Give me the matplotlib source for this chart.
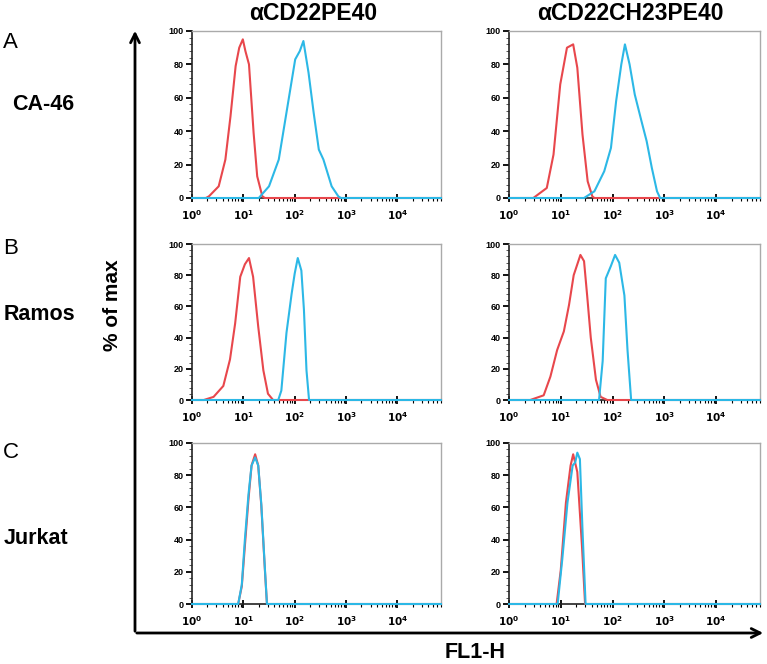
import numpy as np
import matplotlib.pyplot as plt
from matplotlib.patches import FancyArrowPatch
from matplotlib.ticker import FixedLocator, MultipleLocator, LogLocator, NullFormatter

plt.rcParams['font.family'] = ['Liberation Sans', 'DejaVu Sans']

RED = '#e8474c'
CYAN = '#2cb8e6'

cells = ["CA-46", "Ramos", "Jurkat"]
letters = ["A", "B", "C"]
constructs = ["\u03b1CD22PE40", "\u03b1CD22CH23PE40"]

# x values are log10(FL1-H), y values are % of max
# CA-46, aCD22PE40
ca46_pe40_red_x = [0, 0.27, 0.33, 0.52, 0.65, 0.75, 0.85, 0.92, 0.99, 1.04, 1.11, 1.2, 1.27, 1.37, 1.42, 4.85]
ca46_pe40_red_y = [0, 0, 1, 7, 23, 49, 79, 90, 95, 88, 80, 39, 13, 1, 0, 0]
ca46_pe40_cyan_x = [0, 1.3, 1.5, 1.69, 1.85, 2.01, 2.1, 2.17, 2.27, 2.37, 2.47, 2.56, 2.72, 2.85, 2.9, 4.85]
ca46_pe40_cyan_y = [0, 0, 7, 23, 53, 83, 88, 94, 75, 51, 29, 23, 7, 1, 0, 0]
# CA-46, aCD22CH23PE40
ca46_ch23_red_x = [0, 0.47, 0.73, 0.86, 0.99, 1.12, 1.24, 1.32, 1.42, 1.52, 1.61, 1.65, 4.85]
ca46_ch23_red_y = [0, 0, 6, 26, 68, 90, 92, 78, 38, 10, 1, 0, 0]
ca46_ch23_cyan_x = [0, 1.45, 1.65, 1.84, 1.97, 2.07, 2.17, 2.24, 2.33, 2.43, 2.56, 2.66, 2.76, 2.86, 2.92, 4.85]
ca46_ch23_cyan_y = [0, 0, 4, 16, 30, 58, 80, 92, 80, 62, 46, 34, 18, 4, 0, 0]
# Ramos, aCD22PE40
ramos_pe40_red_x = [0, 0.23, 0.42, 0.61, 0.74, 0.84, 0.94, 1.03, 1.11, 1.19, 1.29, 1.39, 1.48, 1.58, 4.85]
ramos_pe40_red_y = [0, 0, 2, 9, 26, 49, 79, 87, 91, 79, 47, 19, 4, 0, 0]
ramos_pe40_cyan_x = [0, 1.68, 1.74, 1.84, 1.94, 2.0, 2.06, 2.13, 2.18, 2.23, 2.28, 4.85]
ramos_pe40_cyan_y = [0, 0, 6, 43, 68, 81, 91, 83, 58, 19, 0, 0]
# Ramos, aCD22CH23PE40
ramos_ch23_red_x = [0, 0.41, 0.67, 0.8, 0.93, 1.06, 1.16, 1.25, 1.38, 1.45, 1.51, 1.58, 1.68, 1.77, 1.9, 4.85]
ramos_ch23_red_y = [0, 0, 3, 15, 32, 44, 61, 80, 93, 89, 67, 40, 13, 2, 0, 0]
ramos_ch23_cyan_x = [0, 1.74, 1.81, 1.87, 1.97, 2.05, 2.13, 2.23, 2.29, 2.36, 4.85]
ramos_ch23_cyan_y = [0, 0, 25, 78, 86, 93, 88, 67, 32, 0, 0]
# Jurkat, aCD22PE40
jurkat_pe40_red_x = [0, 0.9, 0.97, 1.03, 1.1, 1.16, 1.23, 1.29, 1.35, 1.42, 1.46, 4.85]
jurkat_pe40_red_y = [0, 0, 11, 36, 65, 86, 93, 86, 61, 21, 0, 0]
jurkat_pe40_cyan_x = [0, 0.9, 0.97, 1.03, 1.1, 1.16, 1.23, 1.29, 1.35, 1.42, 1.46, 4.85]
jurkat_pe40_cyan_y = [0, 0, 12, 40, 68, 86, 91, 86, 62, 22, 0, 0]
# Jurkat, aCD22CH23PE40
jurkat_ch23_red_x = [0, 0.92, 1.0, 1.1, 1.19, 1.24, 1.32, 1.41, 1.47, 4.85]
jurkat_ch23_red_y = [0, 0, 21, 63, 86, 93, 82, 36, 0, 0]
jurkat_ch23_cyan_x = [0, 0.94, 1.03, 1.13, 1.23, 1.28, 1.32, 1.37, 1.42, 1.48, 4.85]
jurkat_ch23_cyan_y = [0, 0, 28, 63, 86, 88, 94, 90, 46, 0, 0]

panels = [
    [(ca46_pe40_red_x, ca46_pe40_red_y, ca46_pe40_cyan_x, ca46_pe40_cyan_y),
     (ca46_ch23_red_x, ca46_ch23_red_y, ca46_ch23_cyan_x, ca46_ch23_cyan_y)],
    [(ramos_pe40_red_x, ramos_pe40_red_y, ramos_pe40_cyan_x, ramos_pe40_cyan_y),
     (ramos_ch23_red_x, ramos_ch23_red_y, ramos_ch23_cyan_x, ramos_ch23_cyan_y)],
    [(jurkat_pe40_red_x, jurkat_pe40_red_y, jurkat_pe40_cyan_x, jurkat_pe40_cyan_y),
     (jurkat_ch23_red_x, jurkat_ch23_red_y, jurkat_ch23_cyan_x, jurkat_ch23_cyan_y)],
]

decades = [0, 1, 2, 3, 4]
y_ticks = [0, 20, 40, 60, 80, 100]

W, H = 767, 664
fig = plt.figure(figsize=(W / 100, H / 100), dpi=100)

# panel boxes in pixels: (left, top, right, bottom)
col_x = [(192, 441), (509, 760)]
row_y = [(31, 198), (244, 400), (443, 604)]

for r in range(3):
    for c in range(2):
        x0, x1 = col_x[c]
        y0, y1 = row_y[r]
        ax = fig.add_axes([x0 / W, 1 - y1 / H, (x1 - x0) / W, (y1 - y0) / H])
        rx, ry, cx, cy = panels[r][c]
        ax.plot(10 ** np.array(rx), ry, color=RED, lw=1.5, clip_on=False, zorder=3)
        ax.plot(10 ** np.array(cx), cy, color=CYAN, lw=1.5, clip_on=False, zorder=4)
        ax.set_xscale('log')
        ax.set_xlim(1, 10 ** 4.85)
        ax.set_ylim(0, 100)
        ax.xaxis.set_major_locator(FixedLocator([10.0 ** d for d in decades]))
        ax.set_xticklabels(['$\\mathbf{10^{%d}}$' % d for d in decades])
        ax.xaxis.set_minor_locator(LogLocator(base=10, subs=np.arange(2, 10)))
        ax.xaxis.set_minor_formatter(NullFormatter())
        ax.yaxis.set_major_locator(FixedLocator(y_ticks))
        ax.yaxis.set_minor_locator(MultipleLocator(4))
        ax.set_yticklabels([str(v) for v in y_ticks], fontweight='bold')
        ax.tick_params(axis='x', which='major', direction='inout', length=6, width=1.3,
                       labelsize=7.5, pad=4)
        ax.tick_params(axis='x', which='minor', direction='out', length=2.5, width=0.8)
        ax.tick_params(axis='y', which='major', direction='out', length=4, width=1.3,
                       labelsize=6.5, pad=2)
        ax.tick_params(axis='y', which='minor', direction='out', length=2, width=0.7,
                       color='#555555')
        for s in ['top', 'right']:
            ax.spines[s].set_color('#aaaaaa')
            ax.spines[s].set_linewidth(1.0)
        for s in ['left', 'bottom']:
            ax.spines[s].set_color('#222222')
            ax.spines[s].set_linewidth(1.2)

# column titles
fig.text(313 / W, 1 - 13 / H, constructs[0], fontsize=16.5, fontweight='bold',
         ha='center', va='center')
fig.text(630 / W, 1 - 13 / H, constructs[1], fontsize=16.5, fontweight='bold',
         ha='center', va='center')

# row letters and cell lines
letter_y = [43, 248, 452]
cell_y = [105, 315, 538]
cell_x = [12, 4, 4]
for i in range(3):
    fig.text(3 / W, 1 - letter_y[i] / H, letters[i], fontsize=16, ha='left', va='center')
    fig.text(cell_x[i] / W, 1 - cell_y[i] / H, cells[i], fontsize=15.5, fontweight='bold',
             ha='left', va='center')

# big axes arrows
fig.add_artist(FancyArrowPatch((135 / W, 1 - 634 / H), (135 / W, 1 - 28 / H),
                               transform=fig.transFigure, arrowstyle='->',
                               mutation_scale=16, lw=2, color='black'))
fig.add_artist(FancyArrowPatch((134 / W, 1 - 633 / H), (766 / W, 1 - 633 / H),
                               transform=fig.transFigure, arrowstyle='->',
                               mutation_scale=16, lw=2, color='black'))

fig.text(113 / W, 1 - 305 / H, "% of max", fontsize=15, fontweight='bold',
         rotation=90, ha='center', va='center')
fig.text(475 / W, 1 - 652 / H, "FL1-H", fontsize=15.5, fontweight='bold',
         ha='center', va='center')

fig.savefig('out.png', dpi=100)
